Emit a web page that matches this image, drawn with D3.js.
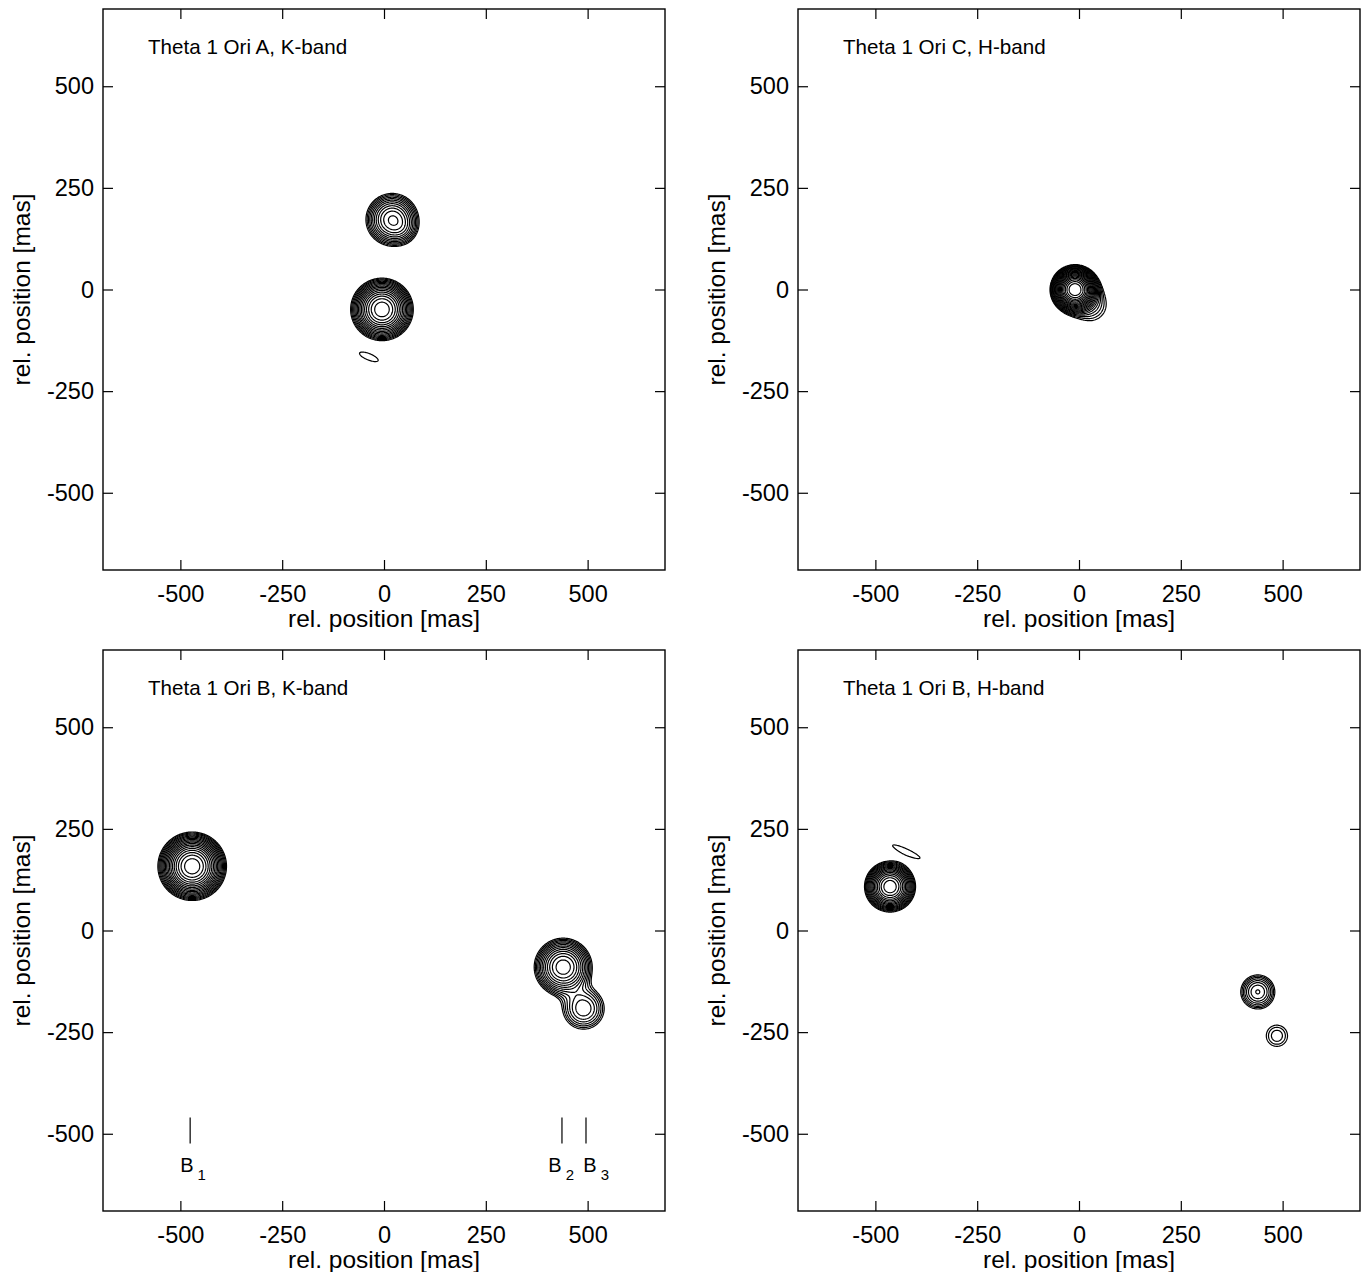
<!DOCTYPE html>
<html>
<head>
<meta charset="utf-8">
<script src="https://cdn.jsdelivr.net/npm/d3@7"></script>
<style>
  html, body { margin: 0; padding: 0; background: #fff; }
  svg text { font-family: "Liberation Sans", Arial, Helvetica, sans-serif; fill: #000; }
</style>
</head>
<body>
<svg id="chart" width="1364" height="1272"></svg>
<script>
// ---------- data ----------
const axisDomain = [-690, 690];
const xTicks = [-500, -250, 0, 250, 500];
const yTicks = [-500, -250, 0, 250, 500];
const tickLabels = ["-500", "-250", "0", "250", "500"];
const xTitle = "rel. position [mas]";
const yTitle = "rel. position [mas]";
const panelTitles = ["Theta 1 Ori A, K-band", "Theta 1 Ori C, H-band",
                     "Theta 1 Ori B, K-band", "Theta 1 Ori B, H-band"];

// contour levels (fraction of brightest peak, logarithmic spacing)
const contourLevels = [0.0200, 0.0240, 0.0288, 0.03456, 0.04147, 0.04977, 0.05972,
  0.07166, 0.08600, 0.10320, 0.12383, 0.14860, 0.17832, 0.21399, 0.25678,
  0.30814, 0.36977, 0.44372, 0.53247, 0.63896, 0.76675];

// point sources: position (mas), peak, widths (mas), position angle (deg)
const sourcesA_K = [
  { x: -5, y: -49, amp: 0.36, sx: 32, sy: 32, ang: 0 },
  { x: 20, y: 172, amp: 0.151, sx: 32, sy: 32, ang: 0 },
  { x: 45, y: 148, amp: 0.022, sx: 22, sy: 22, ang: 0 },
  { x: -37, y: -166, amp: 0.0235, sx: 42, sy: 13, ang: -22 }
];
const sourcesC_H = [
  { x: -10, y: 0, amp: 0.94, sx: 22, sy: 22, ang: 0 },
  { x: 28, y: -38, amp: 0.036, sx: 35, sy: 35, ang: 0 }
];
const sourcesB_K = [
  { x: -471, y: 158, amp: 0.52, sx: 33, sy: 33, ang: 0 },
  { x: 440, y: -90, amp: 0.205, sx: 33, sy: 33, ang: 0 },
  { x: 490, y: -192, amp: 0.07, sx: 32, sy: 32, ang: 0 }
];
const sourcesB_H = [
  { x: -464, y: 108, amp: 0.365, sx: 26, sy: 26, ang: 0 },
  { x: -424, y: 194, amp: 0.0218, sx: 85, sy: 15, ang: -25 },
  { x: 439, y: -151, amp: 0.073, sx: 26, sy: 26, ang: 0 },
  { x: 486, y: -259, amp: 0.033, sx: 26, sy: 26, ang: 0 }
];
// component markers (K-band, Theta 1 Ori B)
const markers = [
  { name: "B", sub: "1", x: -476, labelX: -469 },
  { name: "B", sub: "2", x: 437, labelX: 435 },
  { name: "B", sub: "3", x: 496, labelX: 521 }
];
const markerY = [-460, -524];
const markerLabelY = -595;

// ---------- layout ----------
const panelW = 562, panelH = 561;
const panels = [
  { left: 103, top: 9, title: panelTitles[0], sources: sourcesA_K, marks: false },
  { left: 798, top: 9, title: panelTitles[1], sources: sourcesC_H, marks: false },
  { left: 103, top: 650, title: panelTitles[2], sources: sourcesB_K, marks: true },
  { left: 798, top: 650, title: panelTitles[3], sources: sourcesB_H, marks: false }
];

const svg = d3.select("#chart");
const step = 2;
const n = Math.round((axisDomain[1] - axisDomain[0]) / step) + 1;

function fieldValues(sources) {
  const vals = new Float64Array(n * n);
  const pre = sources.map(s => {
    const t = s.ang * Math.PI / 180;
    return { ...s, c: Math.cos(t), s_: Math.sin(t), ax: 1 / (2 * s.sx * s.sx), ay: 1 / (2 * s.sy * s.sy) };
  });
  for (let j = 0; j < n; j++) {
    const y = axisDomain[1] - j * step;
    for (let i = 0; i < n; i++) {
      const x = axisDomain[0] + i * step;
      let v = 0;
      for (const p of pre) {
        const dx = x - p.x, dy = y - p.y;
        const u = dx * p.c + dy * p.s_;
        const w = -dx * p.s_ + dy * p.c;
        const e = u * u * p.ax + w * w * p.ay;
        if (e < 30) v += p.amp * Math.exp(-e);
      }
      vals[j * n + i] = v;
    }
  }
  return vals;
}

panels.forEach((p, idx) => {
  const x = d3.scaleLinear().domain(axisDomain).range([0, panelW]);
  const y = d3.scaleLinear().domain(axisDomain).range([panelH, 0]);
  const g = svg.append("g").attr("transform", `translate(${p.left},${p.top})`);

  const clipId = "clip" + idx;
  g.append("clipPath").attr("id", clipId)
    .append("rect").attr("width", panelW).attr("height", panelH);

  // contours
  const vals = fieldValues(p.sources);
  const contours = d3.contours().size([n, n]).thresholds(contourLevels)(vals);
  const proj = d3.geoTransform({
    point: function(gx, gy) {
      this.stream.point(x(axisDomain[0] + (gx - 0.5) * step), y(axisDomain[1] - (gy - 0.5) * step));
    }
  });
  const path = d3.geoPath(proj);
  g.append("g").attr("clip-path", `url(#${clipId})`)
    .selectAll("path").data(contours).join("path")
    .attr("d", path)
    .attr("fill", "none")
    .attr("stroke", "#000")
    .attr("stroke-width", 1.2);

  // axes with inward ticks
  const fmt = d => tickLabels[xTicks.indexOf(d)];
  const bottom = g.append("g").attr("transform", `translate(0,${panelH})`)
    .call(d3.axisBottom(x).tickValues(xTicks).tickSize(-10).tickSizeOuter(0).tickPadding(15).tickFormat(fmt));
  const left = g.append("g")
    .call(d3.axisLeft(y).tickValues(yTicks).tickSize(-10).tickSizeOuter(0).tickPadding(9).tickFormat(d => tickLabels[yTicks.indexOf(d)]));
  const top = g.append("g")
    .call(d3.axisTop(x).tickValues(xTicks).tickSize(-10).tickSizeOuter(0).tickFormat(""));
  const right = g.append("g").attr("transform", `translate(${panelW},0)`)
    .call(d3.axisRight(y).tickValues(yTicks).tickSize(-10).tickSizeOuter(0).tickFormat(""));
  [bottom, left, top, right].forEach(a => {
    a.selectAll(".domain").remove();
    a.selectAll(".tick line").attr("stroke", "#000").attr("stroke-width", 1.2);
    a.selectAll("text").attr("font-size", 23.5).attr("font-family", "Liberation Sans, Arial, sans-serif").attr("fill", "#000");
  });

  g.append("rect").attr("width", panelW).attr("height", panelH)
    .attr("fill", "none").attr("stroke", "#000").attr("stroke-width", 1.4);

  // axis titles
  g.append("text").attr("x", panelW / 2).attr("y", panelH + 57)
    .attr("text-anchor", "middle").attr("font-size", 24.5).text(xTitle);
  g.append("text").attr("transform", `translate(-73,${panelH / 2}) rotate(-90)`)
    .attr("text-anchor", "middle").attr("font-size", 24.5).text(yTitle);

  // panel title
  g.append("text").attr("x", 45).attr("y", 45).attr("font-size", 20.6).text(p.title);

  // markers
  if (p.marks) {
    const mg = g.append("g");
    mg.selectAll("line").data(markers).join("line")
      .attr("x1", d => x(d.x)).attr("x2", d => x(d.x))
      .attr("y1", y(markerY[0])).attr("y2", y(markerY[1]))
      .attr("stroke", "#000").attr("stroke-width", 1.2);
    const t = mg.selectAll("text").data(markers).join("text")
      .attr("x", d => x(d.labelX)).attr("y", y(markerLabelY))
      .attr("text-anchor", "middle").attr("font-size", 20);
    t.append("tspan").text(d => d.name);
    t.append("tspan").attr("dx", 4).attr("dy", 8).attr("font-size", 15).text(d => d.sub);
  }
});
</script>
</body>
</html>
